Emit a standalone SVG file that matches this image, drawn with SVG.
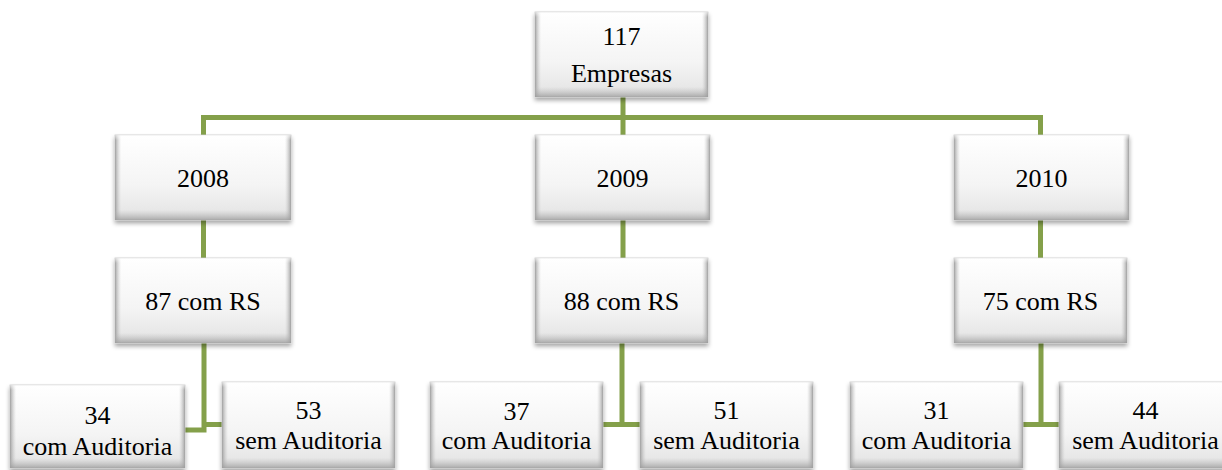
<svg xmlns="http://www.w3.org/2000/svg" width="1222" height="470" viewBox="0 0 1222 470">
<style>
.box{fill:url(#gv);stroke:#c8c8c8;stroke-width:0.8;filter:url(#sh)}
.bh{fill:url(#gh)}
.bb{fill:url(#gb)}
.t{font-family:'Liberation Serif','Times New Roman','DejaVu Serif',serif;font-size:26px;fill:#000;text-anchor:middle}
.c{fill:none;stroke:#84A04A;stroke-width:5}
</style>
<defs>
<linearGradient id="gv" x1="0" y1="0" x2="0" y2="1">
<stop offset="0" stop-color="#ffffff"/>
<stop offset="0.6" stop-color="#f4f4f4"/>
<stop offset="1" stop-color="#e2e2e2"/>
</linearGradient>
<linearGradient id="gh" x1="0" y1="0" x2="1" y2="0">
<stop offset="0" stop-color="#9a9a9a" stop-opacity="0.9"/>
<stop offset="0.035" stop-color="#c8c8c8" stop-opacity="0"/>
<stop offset="0.965" stop-color="#c8c8c8" stop-opacity="0"/>
<stop offset="1" stop-color="#9a9a9a" stop-opacity="0.9"/>
</linearGradient>
<linearGradient id="gb" x1="0" y1="0" x2="0" y2="1">
<stop offset="0" stop-color="#ffffff" stop-opacity="0.6"/>
<stop offset="0.06" stop-color="#ffffff" stop-opacity="0"/>
<stop offset="0.88" stop-color="#bcbcbc" stop-opacity="0"/>
<stop offset="1" stop-color="#9c9c9c" stop-opacity="0.8"/>
</linearGradient>
<filter id="sh" x="-10%" y="-10%" width="120%" height="130%">
<feDropShadow dx="0" dy="3" stdDeviation="2" flood-color="#000" flood-opacity="0.35"/>
</filter>
</defs>
<rect width="1222" height="470" fill="#fff"/>
<g id="connectors">
<path class="c" d="M623 97V117.5M203.5 117.5H1040.5M203.5 115V135M623 117.5V135M1040.5 115V135"/>
<path class="c" d="M203.5 220V258M623 220V258M1040.5 220V258"/>
<path class="c" d="M204 343V430H185M204 424.5H222"/>
<path class="c" d="M622 343V424.5M603 424.5H640"/>
<path class="c" d="M1041 343V424.5M1023 424.5H1059"/>
</g>
<g font-family="Liberation Serif, Times New Roman, serif">
<g id="n-root"><rect class="box" x="535" y="12" width="173" height="85"/><rect class="bh" x="535" y="12" width="173" height="85"/><rect class="bb" x="535" y="12" width="173" height="85"/><text class="t" x="621.5" y="45">117</text><text class="t" x="621.5" y="82">Empresas</text></g>
<g id="n-2008"><rect class="box" x="115" y="135" width="176" height="85"/><rect class="bh" x="115" y="135" width="176" height="85"/><rect class="bb" x="115" y="135" width="176" height="85"/><text class="t" x="203" y="187">2008</text></g>
<g id="n-2009"><rect class="box" x="535" y="135" width="175" height="85"/><rect class="bh" x="535" y="135" width="175" height="85"/><rect class="bb" x="535" y="135" width="175" height="85"/><text class="t" x="622.5" y="187">2009</text></g>
<g id="n-2010"><rect class="box" x="954" y="135" width="175" height="85"/><rect class="bh" x="954" y="135" width="175" height="85"/><rect class="bb" x="954" y="135" width="175" height="85"/><text class="t" x="1041.5" y="187">2010</text></g>
<g id="n-rs2008"><rect class="box" x="115" y="258" width="176" height="85"/><rect class="bh" x="115" y="258" width="176" height="85"/><rect class="bb" x="115" y="258" width="176" height="85"/><text class="t" x="203" y="310">87 com RS</text></g>
<g id="n-rs2009"><rect class="box" x="535" y="258" width="173" height="85"/><rect class="bh" x="535" y="258" width="173" height="85"/><rect class="bb" x="535" y="258" width="173" height="85"/><text class="t" x="621.5" y="310">88 com RS</text></g>
<g id="n-rs2010"><rect class="box" x="954" y="258" width="173" height="85"/><rect class="bh" x="954" y="258" width="173" height="85"/><rect class="bb" x="954" y="258" width="173" height="85"/><text class="t" x="1040.5" y="310">75 com RS</text></g>
<g id="n-com2008"><rect class="box" x="10" y="385" width="175" height="83"/><rect class="bh" x="10" y="385" width="175" height="83"/><rect class="bb" x="10" y="385" width="175" height="83"/><text class="t" x="97.5" y="424">34</text><text class="t" x="97.5" y="455">com Auditoria</text></g>
<g id="n-sem2008"><rect class="box" x="222" y="382" width="173" height="86"/><rect class="bh" x="222" y="382" width="173" height="86"/><rect class="bb" x="222" y="382" width="173" height="86"/><text class="t" x="308.5" y="419">53</text><text class="t" x="308.5" y="449">sem Auditoria</text></g>
<g id="n-com2009"><rect class="box" x="430" y="382" width="173" height="86"/><rect class="bh" x="430" y="382" width="173" height="86"/><rect class="bb" x="430" y="382" width="173" height="86"/><text class="t" x="516.5" y="420">37</text><text class="t" x="516.5" y="449">com Auditoria</text></g>
<g id="n-sem2009"><rect class="box" x="640" y="382" width="173" height="86"/><rect class="bh" x="640" y="382" width="173" height="86"/><rect class="bb" x="640" y="382" width="173" height="86"/><text class="t" x="726.5" y="419">51</text><text class="t" x="726.5" y="449">sem Auditoria</text></g>
<g id="n-com2010"><rect class="box" x="850" y="382" width="173" height="86"/><rect class="bh" x="850" y="382" width="173" height="86"/><rect class="bb" x="850" y="382" width="173" height="86"/><text class="t" x="936.5" y="419">31</text><text class="t" x="936.5" y="449">com Auditoria</text></g>
<g id="n-sem2010"><rect class="box" x="1059" y="382" width="173" height="86"/><rect class="bh" x="1059" y="382" width="173" height="86"/><rect class="bb" x="1059" y="382" width="173" height="86"/><text class="t" x="1145.5" y="419">44</text><text class="t" x="1145.5" y="449">sem Auditoria</text></g>
</g>
</svg>
